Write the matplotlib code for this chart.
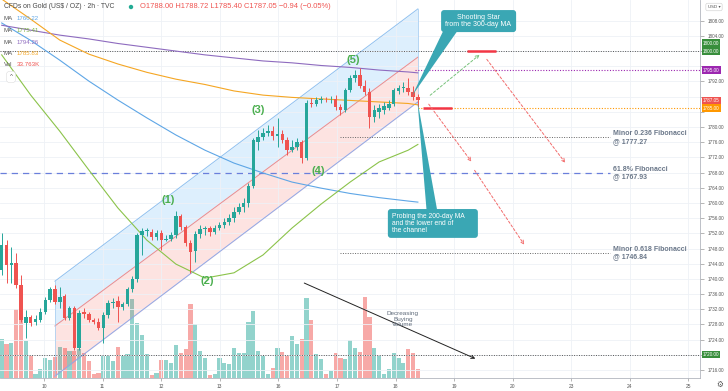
import numpy as np
import matplotlib
matplotlib.use("Agg")
import matplotlib.pyplot as plt
from matplotlib.patches import Polygon, FancyArrowPatch, FancyBboxPatch, Ellipse
from matplotlib.ticker import FormatStrFormatter

plt.rcParams["font.family"] = ["Liberation Sans", "DejaVu Sans"]

# --------------------------
# data (2h candles, TVC gold)
# --------------------------
opens = [1742.3, 1748.9, 1743.7, 1744.2, 1738.4, 1728.4, 1730.0, 1728.6, 1729.2, 1731.3,
         1734.4, 1737.3, 1733.9, 1735.5, 1729.7, 1732.3, 1721.8, 1731.3, 1730.8, 1729.2,
         1728.6, 1727.1, 1730.5, 1733.7, 1734.2, 1732.6, 1733.4, 1737.3, 1740.0, 1751.6,
         1752.6, 1752.4, 1751.0, 1752.1, 1750.2, 1750.4, 1751.6, 1756.6, 1753.7, 1749.5,
         1747.3, 1751.8, 1753.1, 1753.4, 1752.4, 1753.4, 1754.2, 1755.0, 1756.0, 1757.6,
         1758.9, 1760.0, 1764.5, 1776.1, 1777.4, 1778.4, 1779.0, 1777.6, 1778.2, 1776.6,
         1773.9, 1774.7, 1776.1, 1771.8, 1786.3, 1786.1, 1787.1, 1787.2, 1787.0, 1787.4,
         1785.3, 1784.5, 1789.7, 1792.9, 1793.7, 1790.8, 1789.2, 1782.6, 1784.0, 1784.5,
         1785.0, 1786.1, 1789.5, 1790.3, 1790.4, 1789.2, 1788.00]
highs = [1752.1, 1750.2, 1748.4, 1746.8, 1741.0, 1731.8, 1730.5, 1730.5, 1732.3, 1735.2,
         1737.9, 1738.4, 1737.9, 1736.0, 1732.9, 1732.9, 1731.8, 1732.3, 1731.3, 1729.7,
         1729.7, 1731.3, 1734.4, 1735.0, 1735.5, 1733.9, 1737.9, 1740.8, 1752.1, 1753.4,
         1753.4, 1753.1, 1752.9, 1752.9, 1751.6, 1752.4, 1757.9, 1757.1, 1754.2, 1750.2,
         1752.6, 1754.2, 1753.9, 1753.9, 1754.2, 1755.0, 1756.0, 1757.1, 1758.9, 1760.0,
         1761.3, 1765.3, 1777.1, 1779.2, 1779.7, 1780.5, 1780.3, 1782.4, 1779.2, 1777.4,
         1776.6, 1777.1, 1776.6, 1787.1, 1787.6, 1787.9, 1788.2, 1787.9, 1788.2, 1788.4,
         1786.1, 1790.3, 1793.7, 1795.0, 1795.5, 1792.4, 1790.3, 1785.8, 1786.1, 1786.6,
         1787.1, 1790.3, 1791.1, 1791.9, 1792.9, 1790.8, 1788.72]
lows = [1741.0, 1738.9, 1738.9, 1737.6, 1728.6, 1724.4, 1727.6, 1727.9, 1728.6, 1730.8,
        1733.9, 1733.4, 1732.3, 1729.2, 1729.2, 1721.3, 1721.3, 1729.7, 1728.6, 1728.1,
        1726.5, 1723.1, 1729.7, 1732.3, 1728.6, 1731.8, 1732.9, 1736.5, 1739.2, 1746.3,
        1751.3, 1750.2, 1750.2, 1747.6, 1750.0, 1750.0, 1750.8, 1752.9, 1748.7, 1741.6,
        1744.4, 1750.8, 1751.6, 1751.3, 1751.8, 1752.9, 1753.4, 1754.2, 1755.0, 1757.1,
        1757.6, 1758.9, 1763.9, 1773.9, 1776.6, 1777.6, 1776.6, 1774.7, 1775.8, 1772.6,
        1773.4, 1773.9, 1770.5, 1771.3, 1785.3, 1785.5, 1786.3, 1786.6, 1786.3, 1784.5,
        1783.2, 1784.0, 1789.2, 1791.9, 1790.3, 1788.4, 1779.7, 1781.3, 1782.4, 1783.4,
        1784.5, 1785.5, 1788.7, 1789.2, 1788.4, 1787.1, 1785.40]
closes = [1748.9, 1743.7, 1744.2, 1738.4, 1729.2, 1730.0, 1728.4, 1729.4, 1731.3, 1734.4,
          1737.3, 1733.9, 1735.2, 1729.7, 1732.3, 1721.8, 1731.0, 1730.8, 1729.2, 1728.6,
          1727.1, 1730.5, 1733.7, 1733.9, 1732.6, 1733.4, 1737.3, 1740.0, 1751.6, 1752.6,
          1752.7, 1751.0, 1752.1, 1750.2, 1750.4, 1751.6, 1756.6, 1753.7, 1749.5, 1747.1,
          1751.8, 1753.1, 1753.4, 1752.4, 1753.4, 1754.2, 1755.0, 1756.0, 1757.6, 1758.9,
          1760.0, 1764.5, 1776.6, 1777.4, 1778.4, 1779.0, 1777.6, 1778.2, 1776.6, 1773.9,
          1774.7, 1776.1, 1771.8, 1786.3, 1786.1, 1787.1, 1787.2, 1787.0, 1787.2, 1785.3,
          1784.5, 1789.7, 1792.9, 1793.7, 1790.8, 1789.2, 1782.6, 1784.5, 1785.0, 1785.5,
          1786.1, 1789.7, 1790.3, 1790.4, 1789.2, 1788.0, 1787.05]
# volume, thousands
volumes = [150, 133, 136, 267, 267, 144, 85, 14, 34, 79,
           69, 81, 120, 118, 105, 105, 111, 98, 66, 14,
           21, 85, 85, 66, 120, 85, 92, 305, 215, 166,
           92, 12, 21, 69, 69, 59, 128, 98, 111, 288,
           208, 105, 76, 12, 17, 79, 58, 53, 115, 98,
           98, 217, 260, 105, 85, 14, 40, 118, 101, 85,
           163, 133, 150, 312, 225, 92, 75, 17, 27, 98,
           79, 73, 146, 118, 101, 314, 238, 118, 85, 14,
           34, 98, 79, 58, 111, 98, 33.763]

day_labels = ["10", "11", "12", "13", "16", "17", "18", "19", "20", "23", "24", "25"]

# moving averages sampled every 6 bars
ma_bars = [0, 6, 12, 18, 24, 30, 36, 42, 48, 54, 60, 66, 72, 78, 84, 86]
ma_blue = [1807.4, 1802.8, 1797.6, 1792.1, 1787.1, 1782.4, 1777.9, 1773.9,
           1770.5, 1767.9, 1765.5, 1763.9, 1762.5, 1761.4, 1760.5, 1760.22]
ma_green = [1799.0, 1788.4, 1778.9, 1768.7, 1758.7, 1750.2, 1743.9, 1740.2,
            1741.6, 1746.3, 1753.4, 1759.7, 1765.5, 1770.8, 1773.9, 1775.41]
ma_purple = [1806.8, 1805.5, 1804.2, 1803.2, 1802.0, 1801.0, 1800.0, 1799.0,
             1798.2, 1797.4, 1796.9, 1796.2, 1795.7, 1795.0, 1794.5, 1794.26]
ma_orange = [1813.7, 1808.4, 1802.9, 1799.2, 1796.6, 1794.4, 1792.6, 1791.2,
             1789.5, 1788.4, 1787.8, 1787.4, 1787.0, 1786.6, 1786.2, 1785.83]

# regression channel (start bar, end bar)
chan_bars = [11, 86]
chan_upper = [1739.4, 1811.1]
chan_middle = [1727.6, 1798.4]
chan_lower = [1714.4, 1786.6]

fib_names = ["Minor 0.236 Fibonacci", "61.8% Fibonacci", "Minor 0.618 Fibonacci"]
fib_levels = [1777.27, 1767.93, 1746.84]
level_1800 = 1800.00
level_1795 = 1795.00
level_1785 = 1785.00
level_1720 = 1720.00

waves = ["(1)", "(2)", "(3)", "(4)", "(5)"]
wave_bars = [34.4, 42.4, 53.0, 65.4, 72.6]
wave_prices = [1760.8, 1739.4, 1784.5, 1768.4, 1797.6]

# --------------------------
# figure
# --------------------------
UP, DN = "#26a69a", "#ef5350"
o, h, l, c = map(np.array, (opens, highs, lows, closes))
x = np.arange(len(o))
cols = np.where(c >= o, UP, DN)
vcols = np.where(c >= o, "#92d3cc", "#f7a9a7")

W, H = 728, 391
fig = plt.figure(figsize=(W / 100, H / 100), dpi=100)
rect = [0, 13 / H, 700 / W, 378 / H]
axv = fig.add_axes(rect)
ax = fig.add_axes(rect, sharex=axv)
ax.patch.set_visible(False)

# volume pane
axv.bar(x, volumes, width=0.86, color=vcols, lw=0)
axv.set_ylim(0, max(volumes) * 4.67)
axv.axis("off")

ax.set_xlim(-0.35, 144.3)
ax.set_ylim(1713.9, 1813.45)

# price-axis tags (price, text, colour)
tags = [(level_1800 + 2.1, f"{level_1800:.2f}", "#388e3c"),
        (level_1800, f"{level_1800:.2f}", "#388e3c"),
        (level_1795, f"{level_1795:.2f}", "#9c27b0"),
        (closes[-1], f"{closes[-1]:.2f}", "#ef5350"),
        (level_1785, f"{level_1785:.2f}", "#ff9800"),
        (level_1720, f"{level_1720:.2f}", "#388e3c")]

# grid + axes
bpd = 12.107
day_pos = [8.74 + k * bpd for k in range(len(day_labels))]
ax.set_xticks(day_pos)
ax.set_xticklabels(day_labels)
yt = np.arange(1716, 1809, 4)
ax.set_yticks(yt)
ax.set_yticklabels(["" if any(abs(t - p) < 1.5 for p, _, _ in tags) else f"{t:.2f}"
                    for t in yt])
ax.yaxis.tick_right()
ax.grid(True, color="#eef1f6", lw=0.6, zorder=0)
ax.tick_params(axis="y", length=3, width=0.5, color="#999999", labelsize=3.3,
               labelcolor="#555555", pad=2.5)
ax.tick_params(axis="x", length=2, width=0.5, color="#999999", labelsize=3.5,
               labelcolor="#555555", pad=2.5)
for s in ["top", "left"]:
    ax.spines[s].set_visible(False)
for s in ["right", "bottom"]:
    ax.spines[s].set_color("#b2b5be")
    ax.spines[s].set_linewidth(0.6)

# channel
cb = np.array(chan_bars)
ax.fill_between(cb, chan_middle, chan_upper, color="#2196f3", alpha=0.15, lw=0, zorder=1)
ax.fill_between(cb, chan_lower, chan_middle, color="#f44336", alpha=0.15, lw=0, zorder=1)
ax.plot(cb, chan_upper, color="#8fc0ef", lw=0.7, zorder=2)
ax.plot(cb, chan_lower, color="#8fa8e8", lw=0.7, zorder=2)
ax.plot(cb, chan_middle, color="#f08a8a", lw=0.7, zorder=2)
ax.plot([cb[0], cb[0]], [chan_lower[0], chan_upper[0]], color="#9cc8f0", lw=0.5, zorder=2)
ax.plot([cb[1], cb[1]], [chan_lower[1], chan_upper[1]], color="#9cc8f0", lw=0.5, zorder=2)

# horizontal levels
xl, xr = ax.get_xlim()
ax.hlines(level_1800, xl, xr, colors="#555555", linestyles=(0, (1, 1.5)), lw=0.7, zorder=2)
ax.hlines(level_1720, xl, xr, colors="#555555", linestyles=(0, (1, 1.5)), lw=0.7, zorder=2)
ax.hlines(level_1795, 85.4, xr, colors="#9c27b0", linestyles=(0, (1, 1.5)), lw=0.8, zorder=2)
ax.hlines(level_1785, 86.0, xr, colors="#ff9800", linestyles=(0, (1, 1.5)), lw=0.8, zorder=2)
ax.hlines(fib_levels[1], xl, 125.7, colors="#6a7fdb", linestyles=(0, (5, 4)), lw=0.9, zorder=2)
ax.hlines([fib_levels[0], fib_levels[2]], 69.9, 125.7, colors="#666666",
          linestyles=(0, (1, 1.5)), lw=0.7, zorder=2)
for name, lev in zip(fib_names, fib_levels):
    ax.text(126.3, lev, f"{name}\n@ {lev:.2f}", fontsize=5.0, color="#6a7789",
            fontweight="bold", va="center", ha="left", linespacing=1.1, zorder=6)

# moving averages
ax.plot(ma_bars, ma_blue, color="#5ea6e6", lw=0.8, zorder=3)
ax.plot(ma_bars, ma_green, color="#8bc34a", lw=0.8, zorder=3)
ax.plot(ma_bars, ma_purple, color="#8e6bbf", lw=0.8, zorder=3)
ax.plot(ma_bars, ma_orange, color="#f5a623", lw=0.8, zorder=3)

# candles
ax.vlines(x, l, h, colors=cols, lw=0.7, zorder=4)
ax.bar(x, np.maximum(np.abs(c - o), 0.15), bottom=np.minimum(o, c), width=0.72,
       color=cols, lw=0, zorder=5)

# wave counts
for lab, wb, wp in zip(waves, wave_bars, wave_prices):
    ax.text(wb, wp, lab, fontsize=8, fontweight="bold", color="#4caf50",
            ha="center", va="center", zorder=6)

# red target segments and dashed arrows
ax.hlines(level_1800, 96.1, 102.1, colors="#f23645", lw=1.8, zorder=6)
ax.hlines(level_1785, 87.0, 93.0, colors="#f23645", lw=1.8, zorder=6)


def dashed_arrow(p0, p1, color):
    ax.add_patch(FancyArrowPatch(p0, p1, arrowstyle="->", mutation_scale=6,
                                 linestyle=(0, (2.5, 2)), color=color, lw=0.7, zorder=6))


dashed_arrow((88.1, 1787.9), (99.2, 1799.5), "#77c27a")
dashed_arrow((99.9, 1798.4), (116.8, 1770.0), "#f26b6b")
dashed_arrow((87.9, 1786.6), (97.4, 1770.3), "#f26b6b")
dashed_arrow((97.4, 1769.2), (108.3, 1748.4), "#f26b6b")

# decreasing volume trend line
ax.add_patch(FancyArrowPatch((62.0, 1739.2), (98.4, 1718.7), arrowstyle="->",
                             mutation_scale=6, color="#222222", lw=0.7, zorder=6))
ax.text(82.9, 1729.4, "Decreasing\nBuying\nVolume", fontsize=4.6, color="#5f6b7a",
        ha="center", va="center", linespacing=1.1, zorder=6)

# callouts
TEAL = "#3aa7b4"
ASPECT = 4.839 / 3.797  # price units per bar, pixel-for-pixel


def callout(x0, x1, y0, y1, tail):
    ax.add_patch(Polygon(tail, closed=True, fc=TEAL, ec="none", zorder=7))
    ax.add_patch(FancyBboxPatch((x0, y0), x1 - x0, y1 - y0,
                                boxstyle="round,pad=0,rounding_size=0.62",
                                mutation_aspect=ASPECT, fc=TEAL, ec="none", zorder=7))


callout(90.8, 106.3, 1805.0, 1810.8, [(91.5, 1806.0), (94.0, 1805.0), (84.8, 1788.2)])
ax.text(98.5, 1807.9, "Shooting Star\nfrom the 300-day MA", fontsize=5.0, color="white",
        ha="center", va="center", linespacing=1.0, zorder=8)
callout(79.8, 98.4, 1750.8, 1758.4, [(87.8, 1758.0), (90.0, 1758.0), (85.9, 1787.0)])
ax.text(80.7, 1754.7, "Probing the 200-day MA\nand the lower end of\nthe channel", fontsize=4.9,
        color="white", ha="left", va="center", linespacing=1.0, zorder=8)

# price axis tags
ytr = ax.get_yaxis_transform()
for p, txt, colr in tags:
    ax.text(1.004, p, txt, transform=ytr, fontsize=3.3, color="white", ha="left",
            va="center", clip_on=False, zorder=10,
            bbox=dict(boxstyle="square,pad=0.25", fc=colr, ec="none"))


# header / legend
def fx(px):
    return px / W


def fy(py):
    return 1 - py / H


fig.text(fx(4), fy(7), "CFDs on Gold (US$ / OZ) · 2h · TVC", fontsize=4.9,
         color="#4a4a4a", va="center")
fig.patches.append(Ellipse((fx(131), fy(7)), 4.4 / W, 4.4 / H, transform=fig.transFigure,
                           fc="#22ab94", ec="none"))
fig.text(fx(140), fy(7),
         f"O{opens[-1]:.2f} H{highs[-1]:.2f} L{lows[-1]:.2f} C{closes[-1]:.2f} "
         f"\u22120.94 (\u22120.05%)", fontsize=5.4, color="#ef5350", va="center")
legend_rows = [("MA", f"{ma_blue[-1]:.2f}", "#5ea6e6"),
               ("MA", f"{ma_green[-1]:.2f}", "#7cb342"),
               ("MA", f"{ma_purple[-1]:.2f}", "#8e6bbf"),
               ("MA", f"{ma_orange[-1]:.2f}", "#f5a623"),
               ("Vol", f"{volumes[-1]:.3f}K", "#ef5350")]
for k, (nm, val, colr) in enumerate(legend_rows):
    yy = fy(19 + 11.5 * k)
    fig.text(fx(4), yy, nm, fontsize=4.4, color="#555555", va="center")
    fig.text(fx(17), yy, val, fontsize=4.4, color=colr, va="center")
fig.text(fx(11), fy(77), "^", fontsize=4.5, color="#555555", ha="center", va="center",
         bbox=dict(boxstyle="round,pad=0.5", fc="white", ec="#dddddd", lw=0.4))
fig.text(fx(714), fy(7), "USD \u25be", fontsize=3.2, color="#555555", ha="center",
         va="center", family=["DejaVu Sans"],
         bbox=dict(boxstyle="round,pad=0.4", fc="white", ec="#cccccc", lw=0.4))
fig.text(fx(720), fy(384), "\u2699", fontsize=5.5, color="#555555", ha="center",
         va="center", family=["DejaVu Sans"])

fig.savefig("out.png", dpi=100)
